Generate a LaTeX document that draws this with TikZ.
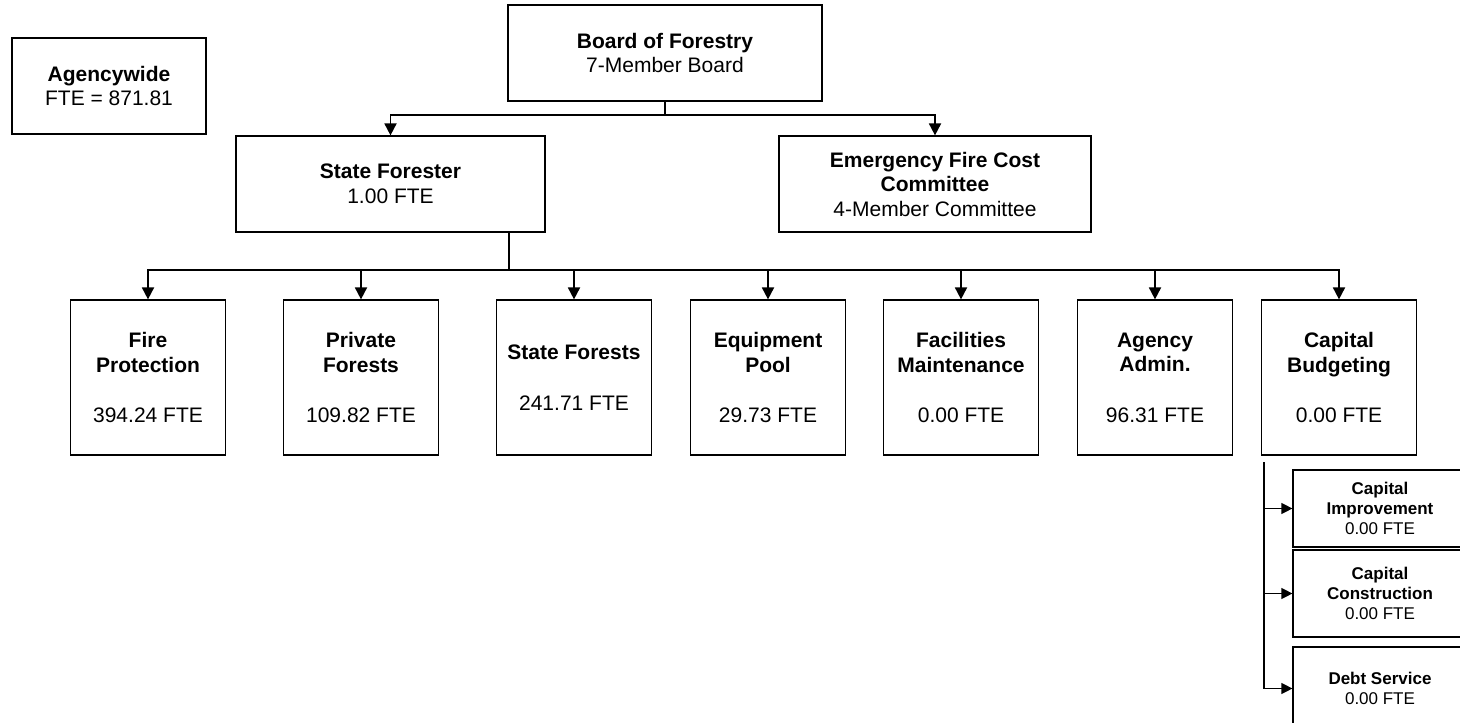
\documentclass[tikz,border=0pt]{standalone}
\usepackage{fontspec}
\setmainfont{Liberation Sans}
\usetikzlibrary{arrows.meta}
\tikzset{
	unit/.style={draw, line width=1.2pt, rectangle, align=center, inner sep=0pt, font=\fontsize{21}{24.5}\selectfont},
	subunit/.style={unit, font=\fontsize{17}{20}\selectfont},
	link/.style={line width=1.8pt, -{Triangle[width=12pt,length=12pt]}},
	sublink/.style={line width=1.2pt, -{Triangle[width=11pt,length=11pt]}}
}
\begin{document}
\begin{tikzpicture}[x=1pt, y=-1pt]
	\useasboundingbox (0,0) rectangle (1460,723);
	\def \rowy{377.5}
	\def \side{155}
	\node[unit, minimum width=194, minimum height=96] (agency) at (109,86) {\textbf{Agencywide}\\FTE = 871.81};
	\node[unit, minimum width=314, minimum height=96] (board) at (665,53) {\textbf{Board of Forestry}\\7-Member Board};
	\node[unit, minimum width=309, minimum height=96] (forester) at (390.5,184) {\textbf{State Forester}\\1.00 FTE};
	\node[unit, minimum width=312, minimum height=96] (efcc) at (935,184) {\textbf{Emergency Fire Cost}\\\textbf{Committee}\\4-Member Committee};
	\coordinate (bfork) at (665,115);
	\coordinate (ffork) at (509,270);
	\draw[line width=1.8pt] (board.south) -- (bfork);
	\draw[link] (bfork) -| (forester.north);
	\draw[link] (bfork) -| (efcc.north);
	\draw[line width=1.8pt] (forester.south -| ffork) -- (ffork);
	\foreach \name/\x/\txt in {
		fire/148/{\textbf{Fire}\\\textbf{Protection}\\[26pt]394.24 FTE},
		private/361/{\textbf{Private}\\\textbf{Forests}\\[26pt]109.82 FTE},
		state/574/{\textbf{State Forests}\\[26pt]241.71 FTE},
		equip/768/{\textbf{Equipment}\\\textbf{Pool}\\[26pt]29.73 FTE},
		facil/961/{\textbf{Facilities}\\\textbf{Maintenance}\\[26pt]0.00 FTE},
		admin/1155/{\textbf{Agency}\\\textbf{Admin.}\\[26pt]96.31 FTE},
		capbud/1339/{\textbf{Capital}\\\textbf{Budgeting}\\[26pt]0.00 FTE}}
	{
		\node[unit, minimum width=\side, minimum height=\side] (\name) at (\x,\rowy) {\txt};
		\draw[link] (ffork) -| (\name.north);
	}
	\node[subunit, minimum width=174, minimum height=77] (capimp) at (1380,508.5) {\textbf{Capital}\\\textbf{Improvement}\\0.00 FTE};
	\node[subunit, minimum width=174, minimum height=87] (capcon) at (1380,593.5) {\textbf{Capital}\\\textbf{Construction}\\0.00 FTE};
	\node[subunit, minimum width=174, minimum height=83] (debt) at (1380,688.5) {\textbf{Debt Service}\\0.00 FTE};
	\coordinate (cfork) at (1264,462);
	\foreach \name in {capimp,capcon,debt}
	{
		\draw[sublink] (cfork) |- (\name.west);
	}
\end{tikzpicture}
\end{document}
